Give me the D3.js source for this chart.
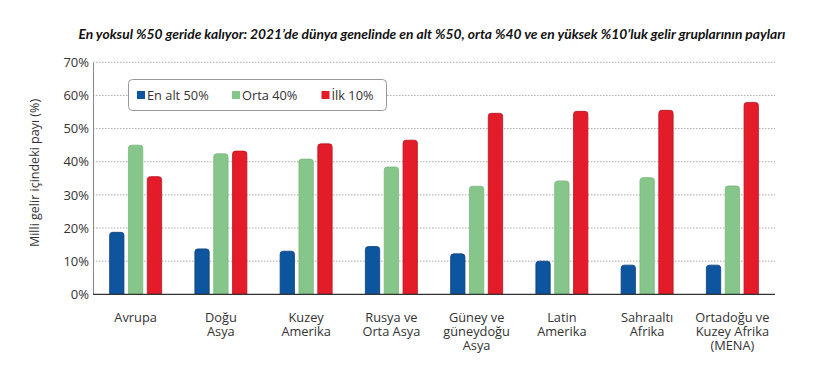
<!DOCTYPE html>
<html><head><meta charset="utf-8">
<script src="https://cdn.jsdelivr.net/npm/d3@7"></script>
<style>body{margin:0;background:#fff}svg{display:block}</style>
</head><body>
<svg id="c" width="825" height="379"></svg>
<script>
const categories = [["Avrupa"],["Doğu","Asya"],["Kuzey","Amerika"],["Rusya ve","Orta Asya"],["Güney ve","güneydoğu","Asya"],["Latin","Amerika"],["Sahraaltı","Afrika"],["Ortadoğu ve","Kuzey Afrika","(MENA)"]];
const seriesNames = ["En alt 50%","Orta 40%","İlk 10%"];
const bottom50 = [18.7,13.7,13.0,14.4,12.2,10.0,8.8,8.8];
const middle40 = [45.0,42.4,40.8,38.4,32.6,34.2,35.2,32.7];
const top10 = [35.5,43.2,45.4,46.5,54.6,55.2,55.5,57.9];
const yTicks = [0,10,20,30,40,50,60,70];
const colors = ["#0e559f","#86c68a","#e41c2a"];
const strokes = ["#0a3f78","#79b97d","#b8121d"];
const title = "En yoksul %50 geride kalıyor: 2021’de dünya genelinde en alt %50, orta %40 ve en yüksek %10’luk gelir gruplarının payları";
const yLabel = "Milli gelir içindeki payı (%)";

const FONT = "Open Sans";
const svg = d3.select("#c");
const pLeft=93, pRight=775, pTop=62.3, pBottom=294.3;
const series=[bottom50,middle40,top10];
const x0 = d3.scaleBand().domain(d3.range(categories.length)).range([pLeft,pRight]).paddingInner(0).paddingOuter(0);
const x1 = d3.scaleBand().domain(d3.range(3)).range([x0.bandwidth()/2-26, x0.bandwidth()/2+26]).paddingInner(0.24);
const y = d3.scaleLinear().domain([0,70]).range([pBottom,pTop]);

svg.append("text").attr("x",432).attr("y",39).attr("text-anchor","middle")
  .attr("font-family","Lato").attr("font-style","italic").attr("font-weight","bold")
  .attr("font-size",13.5).attr("fill","#111").attr("textLength",707).attr("lengthAdjust","spacingAndGlyphs").text(title);

// grid
svg.append("g").selectAll("line").data(yTicks.filter(d=>d>0)).join("line")
  .attr("x1",pLeft).attr("x2",pRight).attr("y1",d=>y(d)).attr("y2",d=>y(d))
  .attr("stroke","#aaa").attr("stroke-width",1).attr("stroke-dasharray","1.5,1.5");
const ya = svg.append("g").attr("transform",`translate(${pLeft},0)`)
  .call(d3.axisLeft(y).tickValues(yTicks).tickFormat(d=>d+"%").tickSize(0).tickPadding(4));
ya.select(".domain").attr("stroke","#888");
ya.selectAll("text").attr("font-family",FONT).attr("font-size",13).attr("fill","#333");

svg.append("text").attr("transform","translate(39,173) rotate(-90)").attr("text-anchor","middle")
  .attr("font-family",FONT).attr("font-size",12.5).attr("fill","#333").text(yLabel);

// bars
const g = svg.append("g");
series.forEach((s,si)=>{
  g.append("g").selectAll("path").data(s).join("path")
   .attr("d",(d,i)=>{
     const xx=x0(i)+x1(si), w=x1.bandwidth(), yy=y(d), r=3;
     return `M${xx},${pBottom}V${yy+r}Q${xx},${yy} ${xx+r},${yy}H${xx+w-r}Q${xx+w},${yy} ${xx+w},${yy+r}V${pBottom}Z`;
   })
   .attr("fill",colors[si]).attr("stroke",strokes[si]).attr("stroke-width",0.8);
});

svg.append("line").attr("x1",pLeft).attr("x2",pRight).attr("y1",pBottom).attr("y2",pBottom).attr("stroke","#333").attr("stroke-width",1.3);

// x labels
const xl = svg.append("g");
categories.forEach((c,i)=>{
  const cx = x0(i)+x0.bandwidth()/2;
  c.forEach((line,li)=>xl.append("text").attr("x",cx).attr("y",321.5+li*14).attr("text-anchor","middle")
    .attr("font-family",FONT).attr("font-size",12.8).attr("fill","#333").text(line));
});

// legend
const lg = svg.append("g");
lg.append("rect").attr("x",128.5).attr("y",79.5).attr("width",258).attr("height",31).attr("rx",4)
  .attr("fill","#fff").attr("stroke","#999");
const lx=[137,232,321.5];
seriesNames.forEach((n,i)=>{
  lg.append("rect").attr("x",lx[i]).attr("y",91).attr("width",8).attr("height",8).attr("fill",colors[i]);
  lg.append("text").attr("x",lx[i]+10).attr("y",99.5).attr("font-family",FONT).attr("font-size",12.8).attr("fill","#333").text(n);
});
</script>
</body></html>
